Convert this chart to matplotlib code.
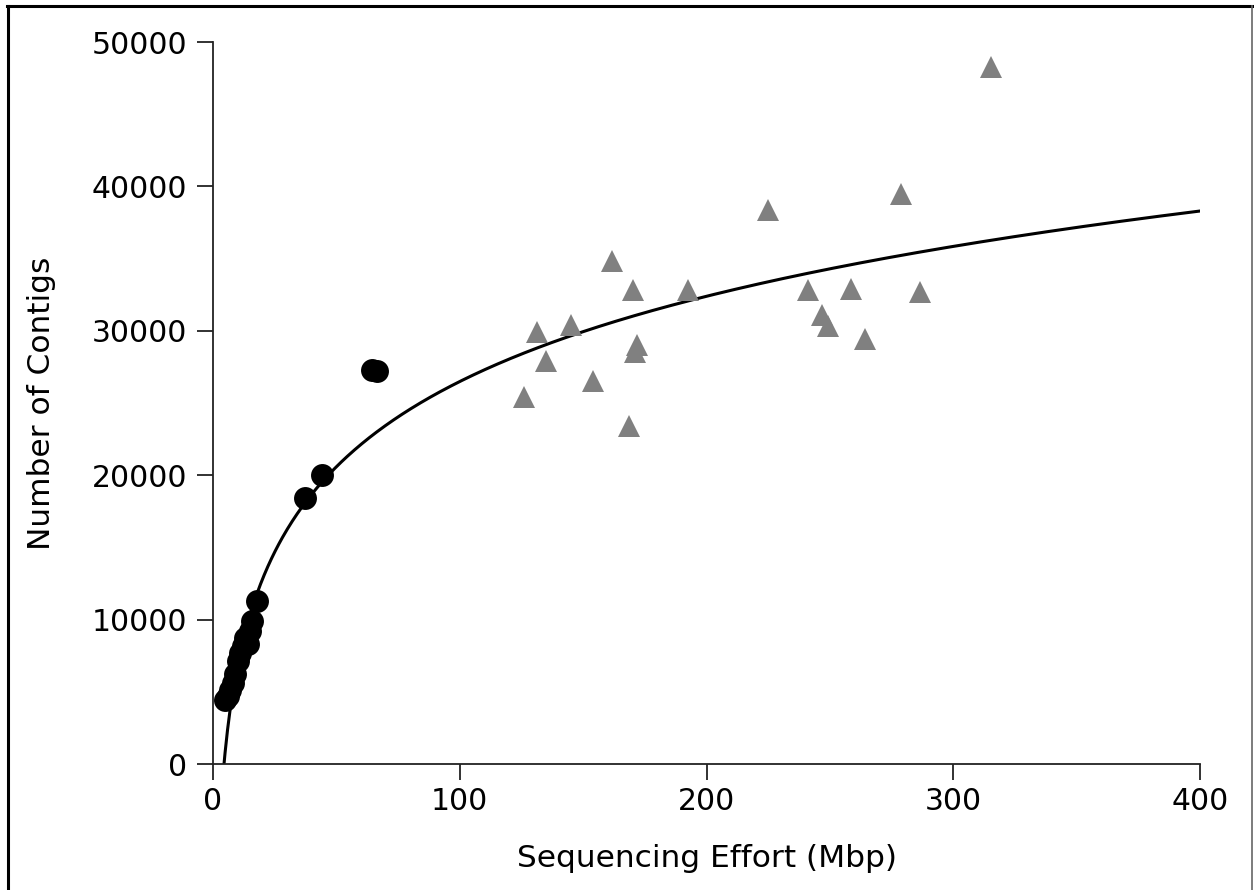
import numpy as np
import matplotlib
matplotlib.use("Agg")
import matplotlib.pyplot as plt
from matplotlib.lines import Line2D

# small-insert samples (circles)
circle_x = [5, 6, 7, 8, 9, 10, 11, 12, 13, 14, 15, 16, 18, 37.3, 44.2, 64.5, 66.5]
circle_y = [4400, 4700, 5100, 5600, 6200, 7100, 7700, 8200, 8700, 8300, 9200, 9900, 11300,
            18400, 20000, 27300, 27200]

# large samples (triangles)
tri_x = [315.3, 224.8, 278.8, 241.3, 258.4, 286.5, 246.7, 249.4, 264.2,
         161.6, 170.1, 192.6, 131.2, 145.0, 171.7, 171.0, 135.0, 154.1, 126.0, 168.7]
tri_y = [48300, 38400, 39500, 32800, 32900, 32700, 31100, 30300, 29400,
         34800, 32800, 32800, 29900, 30400, 29000, 28550, 27900, 26500, 25400, 23400]

# log fit: y = a*ln(x) + b
fit_a = 8518.0
fit_b = -12740.0

x_ticks = [0, 100, 200, 300, 400]
y_ticks = [0, 10000, 20000, 30000, 40000, 50000]

plt.rcParams.update({
    "font.family": "DejaVu Sans",
    "font.size": 21.5,
})

fig = plt.figure(figsize=(12.54, 8.9), dpi=100)
ax = fig.add_axes([213 / 1254, 1 - 764 / 890, (1200 - 213) / 1254, (764 - 42) / 890])

xs = np.linspace(4.4, 400, 800)
ax.plot(xs, fit_a * np.log(xs) + fit_b, color="black", linewidth=2.2, zorder=2)
ax.plot(tri_x, tri_y, linestyle="none", marker="^", markersize=16.5,
        color="#808080", markeredgewidth=0, zorder=3)
ax.plot(circle_x, circle_y, linestyle="none", marker="o", markersize=16.5,
        color="black", markeredgewidth=0, zorder=4)

ax.set_xlim(0, 400)
ax.set_ylim(0, 50000)
ax.set_xticks(x_ticks)
ax.set_yticks(y_ticks)
for side in ("top", "right"):
    ax.spines[side].set_visible(False)
for side in ("left", "bottom"):
    ax.spines[side].set_linewidth(1.3)
    ax.spines[side].set_color("#222222")
ax.tick_params(direction="out", length=11.5, width=1.3, color="#222222", labelsize=21.5)
ax.tick_params(axis="y", pad=7)
ax.tick_params(axis="x", pad=5)
ax.set_xlabel("Sequencing Effort (Mbp)", fontsize=22.5, labelpad=20)
ax.set_ylabel("Number of Contigs", fontsize=22.5, labelpad=26)

# figure frame (bottom edge falls outside the picture)
fig.add_artist(Line2D([7 / 1254, 1252 / 1254], [1 - 6 / 890, 1 - 6 / 890],
                      transform=fig.transFigure, color="black", linewidth=2.2))
fig.add_artist(Line2D([7.5 / 1254, 7.5 / 1254], [0, 1 - 6 / 890],
                      transform=fig.transFigure, color="black", linewidth=2.2))
fig.add_artist(Line2D([1251.5 / 1254, 1251.5 / 1254], [0, 1 - 6 / 890],
                      transform=fig.transFigure, color="#666666", linewidth=1.2))

fig.savefig("out.png", dpi=100, facecolor="white")
